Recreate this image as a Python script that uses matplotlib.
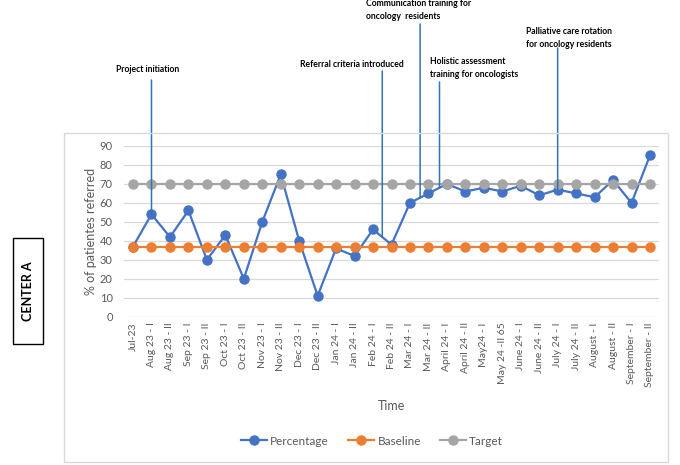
import numpy as np
import matplotlib
matplotlib.use("Agg")
import matplotlib.pyplot as plt
import matplotlib.patches as mpatches

plt.rcParams["font.family"] = ["Lato", "DejaVu Sans"]

# --- data ---
periods = [
    "Jul-23", "Aug 23 - I", "Aug 23 - II", "Sep 23 - I", "Sep 23 - II",
    "Oct 23 - I", "Oct 23 - II", "Nov 23 - I", "Nov 23 - II", "Dec 23 - I",
    "Dec 23 - II", "Jan 24 - I", "Jan 24 - II", "Feb 24 - I", "Feb 24 - II",
    "Mar 24 - I", "Mar 24 - II", "April 24 - I", "April 24 - II", "May24 - I",
    "May 24 -II 65", "June 24 - I", "June 24 - II", "July 24 - I", "July 24 - II",
    "August - I", "August - II", "September - I", "September - II",
]
percentage = [37, 54, 42, 56, 30, 43, 20, 50, 75, 40, 11, 36, 32, 46, 38,
              60, 65, 70, 66, 68, 66, 69, 64, 67, 65, 63, 72, 60, 85]
baseline = [37] * len(periods)
target = [70] * len(periods)

# interventions: label, position on the category axis
event_labels = [
    "Project initiation",
    "Referral criteria introduced",
    "Communication training for\noncology  residents",
    "Holistic assessment\ntraining for oncologists",
    "Palliative care rotation\nfor oncology residents",
]
event_pos = [1, 13.5, 15.55, 16.6, 23]

# --- layout (pixels of a 680x465 canvas) ---
W, H = 680, 465
C_BLUE, C_ORANGE, C_GREY = "#4472C4", "#ED7D31", "#A5A5A5"
TXT = "#595959"
EVENT_COLOR = "#2E75B6"

fig = plt.figure(figsize=(W / 100, H / 100), dpi=100)
ax = fig.add_axes([123.8 / W, 1 - 316.7 / H, (659.2 - 123.8) / W, (316.7 - 146) / H])

x = np.arange(len(periods))
kw = dict(lw=1.6, marker="o", ms=6.5, clip_on=False)
ax.plot(x, percentage, color=C_BLUE, label="Percentage", **kw)
ax.plot(x, baseline, color=C_ORANGE, label="Baseline", **kw)
ax.plot(x, target, color=C_GREY, label="Target", **kw)

ax.set_xlim(-0.5, len(periods) - 0.5)
ax.set_ylim(0, 90)
ax.set_yticks(range(0, 91, 10))
ax.set_xticks(x)
ax.set_xticklabels(periods, rotation=90, fontsize=7.5, color=TXT)
ax.tick_params(axis="y", labelsize=8, colors=TXT, length=0, pad=8)
ax.tick_params(axis="x", length=0, pad=4)
ax.grid(axis="y", color="#D9D9D9", lw=0.9)
ax.set_axisbelow(True)
for s in ax.spines.values():
    s.set_visible(False)

ax.set_ylabel("% of patientes referred", fontsize=9, color=TXT, labelpad=2)
fig.text(392 / W, 1 - 406 / H, "Time", fontsize=9, color=TXT, ha="center", va="center")

ax.legend(loc="center", bbox_to_anchor=(372 / W, 1 - 441 / H),
          bbox_transform=fig.transFigure, ncol=3, frameon=False,
          fontsize=8.5, labelcolor=TXT, handlelength=2.2, columnspacing=1.6,
          handletextpad=0.3)

# event annotations: text position and top of the connector (pixels)
text_px = [(148, 69, "center"), (352, 64, "center"), (366, 10, "left"),
           (430, 68, "left"), (526, 38, "left")]
line_top = [80, 71, 24, 82, 48]
for lab, pos, (tx, ty, ha), top in zip(event_labels, event_pos, text_px, line_top):
    fig.text(tx / W, 1 - ty / H, lab, fontsize=6.2, fontweight="bold",
             ha=ha, va="center", color="black", linespacing=1.6)
    yend = np.interp(pos, x, percentage)
    # vertical connector from the label down to the series
    ax.annotate("", xy=(pos, yend), xycoords="data",
                xytext=(ax.transData.transform((pos, 0))[0], H - top),
                textcoords="figure pixels", annotation_clip=False,
                arrowprops=dict(arrowstyle="-", color=EVENT_COLOR, lw=1.1,
                                shrinkA=0, shrinkB=0), zorder=5)

# chart frame
fig.patches.append(mpatches.Rectangle((64 / W, 1 - 461.5 / H), (668 - 64) / W, (461.5 - 133) / H,
                                      transform=fig.transFigure, fill=False,
                                      ec="#D9D9D9", lw=1))

# side label box
fig.patches.append(mpatches.Rectangle((12.5 / W, 1 - 343.5 / H), 30 / W, 105 / H,
                                      transform=fig.transFigure, fill=False,
                                      ec="black", lw=1))
fig.text(27.5 / W, 1 - 291 / H, "CENTER A", rotation=90, fontsize=9,
         fontweight="bold", ha="center", va="center")

fig.savefig("out.png", dpi=100)
